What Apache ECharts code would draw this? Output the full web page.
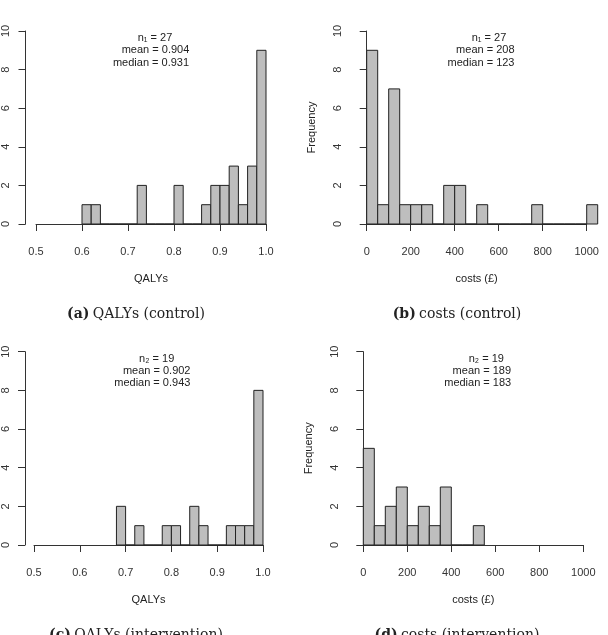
<!DOCTYPE html>
<html>
<head>
<meta charset="utf-8">
<script src="https://cdn.jsdelivr.net/npm/echarts@6/dist/echarts.min.js"></script>
<style>
html,body{margin:0;padding:0;background:#fff}
#chart{width:608px;height:635px}
</style>
</head>
<body>
<div id="chart"></div>
<script>
// bin edges + counts
var qalyEdgesCtrl = [0.60,0.62,0.64,0.66,0.68,0.70,0.72,0.74,0.76,0.78,0.80,0.82,0.84,0.86,0.88,0.90,0.92,0.94,0.96,0.98,1.00];
var qalyCountsCtrl = [1,1,0,0,0,0,2,0,0,0,2,0,0,1,2,2,3,1,3,9];

var costEdgesCtrl = [0,50,100,150,200,250,300,350,400,450,500,550,600,650,700,750,800,850,900,950,1000,1050];
var costCountsCtrl = [9,1,7,1,1,1,0,2,2,0,1,0,0,0,0,1,0,0,0,0,1];

var qalyEdgesInt = [0.68,0.70,0.72,0.74,0.76,0.78,0.80,0.82,0.84,0.86,0.88,0.90,0.92,0.94,0.96,0.98,1.00];
var qalyCountsInt = [2,0,1,0,0,1,1,0,2,1,0,0,1,1,1,8];

var costEdgesInt = [0,50,100,150,200,250,300,350,400,450,500,550];
var costCountsInt = [5,1,2,3,1,2,1,3,0,0,1];

// axis ranges / tick steps
var freqRange = [0, 10, 2];
var qalyRange = [0.5, 1.0, 0.1];
var costRange = [0, 1000, 200];

// text in the plots
var statsQalyCtrl = ['n\u2081 = 27', 'mean = 0.904', 'median = 0.931'];
var statsCostCtrl = ['n\u2081 = 27', 'mean = 208', 'median = 123'];
var statsQalyInt = ['n\u2082 = 19', 'mean = 0.902', 'median = 0.943'];
var statsCostInt = ['n\u2082 = 19', 'mean = 189', 'median = 183'];

var captionTags = ['(a)', '(b)', '(c)', '(d)'];
var captionTexts = ['QALYs (control)', 'costs (control)', 'QALYs (intervention)', 'costs (intervention)'];

var SANS = 'Liberation Sans, Arial, sans-serif';
var SERIF = 'DejaVu Serif, serif';
var INK = '#333';

var panels = [
    {edges: qalyEdgesCtrl, counts: qalyCountsCtrl, range: qalyRange, xname: 'QALYs', freq: false,
     grid: {left: 36, top: 31, width: 230, height: 193}, yoff: 10.5, xoff: 7.5,
     stats: statsQalyCtrl, statPos: [[155, 38], [155.5, 50], [151, 63]], cap: [136, 314]},
    {edges: costEdgesCtrl, counts: costCountsCtrl, range: costRange, xname: 'costs (\u00a3)', freq: true,
     grid: {left: 366.7, top: 31, width: 220, height: 193}, yoff: 9.5, xoff: 7.5,
     stats: statsCostCtrl, statPos: [[489, 38], [485.3, 50], [481, 63]], cap: [457, 314]},
    {edges: qalyEdgesInt, counts: qalyCountsInt, range: qalyRange, xname: 'QALYs', freq: false,
     grid: {left: 32.3, top: 351.7, width: 230.7, height: 193.3}, yoff: 9, xoff: 7.7,
     stats: statsQalyInt, statPos: [[156.7, 359], [156.7, 370.7], [152.3, 383.3]], cap: [136, 635]},
    {edges: costEdgesInt, counts: costCountsInt, range: costRange, xname: 'costs (\u00a3)', freq: true,
     grid: {left: 363.3, top: 351.7, width: 220, height: 193.3}, yoff: 9.3, xoff: 7.7,
     stats: statsCostInt, statPos: [[486.3, 359], [481.8, 370.7], [477.7, 383.3]], cap: [457, 635]}
];

function histItem(params, api) {
    var lo = api.coord([api.value(0), 0]);
    var hi = api.coord([api.value(1), api.value(2)]);
    return {
        type: 'rect',
        shape: {x: lo[0], y: hi[1], width: hi[0] - lo[0], height: lo[1] - hi[1]},
        style: {fill: '#bebebe', stroke: '#222', lineWidth: 1}
    };
}

var grids = [], xAxes = [], yAxes = [], series = [], graphics = [];

panels.forEach(function (p, i) {
    grids.push(p.grid);

    var isQaly = p.range === qalyRange;
    xAxes.push({
        gridIndex: i, type: 'value',
        min: p.range[0], max: p.range[1], interval: p.range[2],
        offset: p.xoff,
        axisLine: {show: true, lineStyle: {color: INK, width: 1}},
        axisTick: {show: true, length: 7, lineStyle: {color: INK}},
        axisLabel: {
            margin: 15, fontSize: 11, color: INK, fontFamily: SANS,
            showMinLabel: true, showMaxLabel: true, hideOverlap: false,
            formatter: function (v) { return isQaly ? v.toFixed(1) : String(v); }
        },
        splitLine: {show: false},
        name: p.xname, nameLocation: 'middle', nameGap: 42,
        nameTextStyle: {fontSize: 11, color: '#222', fontFamily: SANS}
    });

    yAxes.push({
        gridIndex: i, type: 'value',
        min: freqRange[0], max: freqRange[1], interval: freqRange[2],
        offset: p.yoff,
        axisLine: {show: true, lineStyle: {color: INK, width: 1}},
        axisTick: {show: true, length: 7, lineStyle: {color: INK}},
        axisLabel: {rotate: 90, margin: 14, fontSize: 11, color: INK, fontFamily: SANS,
            showMinLabel: true, showMaxLabel: true},
        splitLine: {show: false},
        name: p.freq ? 'Frequency' : '', nameLocation: 'middle', nameRotate: 90, nameGap: 40,
        nameTextStyle: {fontSize: 11, color: '#222', fontFamily: SANS}
    });

    var data = [];
    for (var k = 0; k < p.counts.length; k++) {
        data.push([p.edges[k], p.edges[k + 1], p.counts[k]]);
    }
    series.push({
        type: 'custom', xAxisIndex: i, yAxisIndex: i,
        renderItem: histItem, clip: false, silent: true,
        encode: {x: [0, 1], y: 2},
        data: data
    });

    p.stats.forEach(function (t, j) {
        graphics.push({
            type: 'text', x: p.statPos[j][0], y: p.statPos[j][1],
            style: {text: t, align: 'center', verticalAlign: 'middle',
                fontSize: 11, fontFamily: SANS, fill: '#222'}
        });
    });

    // subfigure caption under each panel
    graphics.push({
        type: 'text', x: p.cap[0], y: p.cap[1],
        style: {
            text: '{b|' + captionTags[i] + '} {n|' + captionTexts[i] + '}',
            align: 'center', verticalAlign: 'middle',
            rich: {
                b: {fontWeight: 'bold', fontSize: 14, fontFamily: SERIF, fill: '#222'},
                n: {fontSize: 14, fontFamily: SERIF, fill: '#222'}
            }
        }
    });
});

var myChart = echarts.init(document.getElementById('chart'));
myChart.setOption({
    animation: false,
    grid: grids,
    xAxis: xAxes,
    yAxis: yAxes,
    series: series,
    graphic: graphics
});
</script>
</body>
</html>
